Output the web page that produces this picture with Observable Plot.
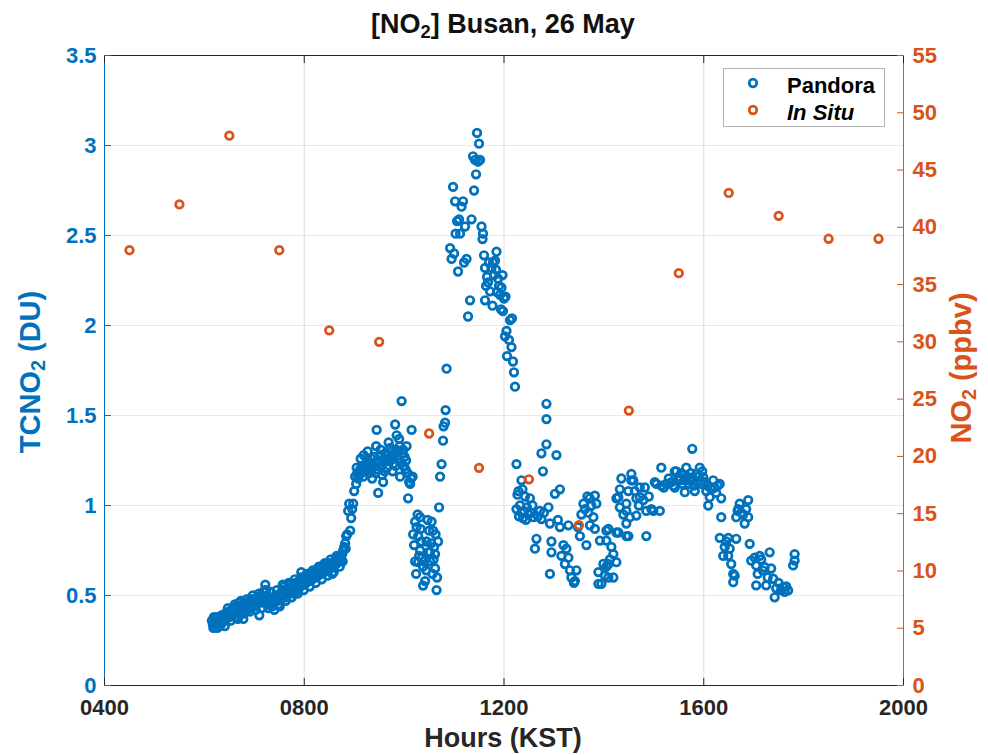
<!DOCTYPE html>
<html><head><meta charset="utf-8">
<script src="https://cdn.jsdelivr.net/npm/d3@7"></script>
<script src="https://cdn.jsdelivr.net/npm/@observablehq/plot@0.6"></script>
<style>
body{margin:0;background:#fff;font-family:"Liberation Sans",Arial,sans-serif;}
#wrap{position:relative;width:988px;height:755px;overflow:hidden;background:#fff}
.lbl{position:absolute;font-weight:bold;white-space:nowrap;transform:translate(-50%,-50%);line-height:1}
.lbl sub{font-size:68%;vertical-align:-0.3em;line-height:0}
#legend{position:absolute;left:723px;top:68px;width:162px;height:59px;border:1px solid #b4b4b4;background:#fff;box-sizing:border-box}
.li{position:absolute;left:0;font-weight:bold;font-size:22px;color:#000;line-height:1}
.li svg{position:absolute;left:23px;top:2px}
.li span{position:absolute;left:63px;top:0;white-space:nowrap}
</style></head>
<body><div id="wrap"></div>
<script>
// ---- data ----
const xTickHours = [4, 8, 12, 16, 20];
const leftTicksDU = [0, 0.5, 1, 1.5, 2, 2.5, 3, 3.5];
const rightTicksPpbv = [0, 5, 10, 15, 20, 25, 30, 35, 40, 45, 50, 55];
const insituHours = [4.5, 5.5, 6.5, 7.5, 8.5, 9.5, 10.5, 11.5, 12.5, 13.5, 14.5, 15.5, 16.5, 17.5, 18.5, 19.5];
const insituPpbv = [38, 42, 48, 38, 31, 30, 22, 19, 18, 14, 24, 36, 43, 41, 39, 39];
// Pandora [hour (decimal, KST), TCNO2 (DU)]
const pandora = [
[6.15,0.36],[6.17,0.34],[6.18,0.32],[6.20,0.37],[6.22,0.33],[6.23,0.35],[6.25,0.38],[6.27,0.34],[6.28,0.36],[6.30,0.33],[6.32,0.37],[6.34,0.39],[6.36,0.35],[6.38,0.38],[6.40,0.36],[6.42,0.40],[6.44,0.37],[6.46,0.39],[6.48,0.41],[6.50,0.38],[6.52,0.40],[6.54,0.42],[6.56,0.39],[6.58,0.43],[6.60,0.41],[6.62,0.38],[6.64,0.44],[6.66,0.42],[6.68,0.40],[6.70,0.46],[6.72,0.43],[6.74,0.41],[6.76,0.45],[6.78,0.37],[6.80,0.43],[6.82,0.46],[6.84,0.44],[6.86,0.42],[6.88,0.45],[6.90,0.47],[6.92,0.43],[6.94,0.45],[6.96,0.48],[6.98,0.46],[7.00,0.44],[7.02,0.47],[7.04,0.45],[7.06,0.49],[7.08,0.47],[7.10,0.39],[7.12,0.48],[7.14,0.50],[7.16,0.46],[7.18,0.52],[7.20,0.48],[7.22,0.56],[7.24,0.53],[7.26,0.50],[7.28,0.43],[7.30,0.47],[7.32,0.49],[7.34,0.46],[7.36,0.44],[7.38,0.48],[7.40,0.42],[7.42,0.47],[7.44,0.50],[7.46,0.47],[7.48,0.45],[7.50,0.49],[7.52,0.51],[7.54,0.48],[7.56,0.53],[7.58,0.50],[7.60,0.55],[7.62,0.52],[7.64,0.49],[7.66,0.54],[7.68,0.51],[7.70,0.53],[7.72,0.56],[7.74,0.52],[7.76,0.55],[7.78,0.53],[7.80,0.51],[7.82,0.57],[7.84,0.54],[7.86,0.56],[7.88,0.53],[7.90,0.58],[7.92,0.55],[7.94,0.63],[7.96,0.57],[7.98,0.59],[8.00,0.56],[8.02,0.60],[8.04,0.57],[8.06,0.59],[8.08,0.61],[8.10,0.58],[8.12,0.60],[8.14,0.62],[8.16,0.59],[8.18,0.61],[8.20,0.63],[8.22,0.60],[8.24,0.62],[8.26,0.64],[8.28,0.61],[8.30,0.63],[8.32,0.65],[8.34,0.62],[8.36,0.64],[8.38,0.66],[8.40,0.63],[8.42,0.65],[8.44,0.67],[8.46,0.64],[8.48,0.66],[8.50,0.68],[8.52,0.65],[8.54,0.67],[8.56,0.62],[8.58,0.66],[8.60,0.69],[8.62,0.67],[8.64,0.70],[8.66,0.68],[8.68,0.71],[8.70,0.69],[8.72,0.72],[8.74,0.70],[8.76,0.73],[8.78,0.75],[8.80,0.77],[8.82,0.79],[8.84,0.83],[8.86,0.84],[8.88,0.97],[8.90,1.01],
[6.19,0.38],[6.26,0.32],[6.33,0.34],[6.41,0.33],[6.47,0.43],[6.53,0.36],[6.61,0.45],[6.67,0.37],[6.73,0.47],[6.79,0.40],[6.85,0.48],[6.91,0.41],[6.97,0.50],[7.03,0.42],[7.09,0.51],[7.15,0.43],[7.21,0.53],[7.27,0.45],[7.33,0.52],[7.39,0.46],[7.45,0.53],[7.51,0.44],[7.57,0.56],[7.63,0.47],[7.69,0.57],[7.75,0.49],[7.81,0.59],[7.87,0.51],[7.93,0.60],[7.99,0.53],[8.05,0.62],[8.11,0.55],[8.17,0.64],[8.23,0.57],[8.29,0.66],[8.35,0.59],[8.41,0.68],[8.47,0.61],[8.53,0.70],[8.59,0.63],[8.65,0.72],[8.71,0.66],[8.77,0.69],[8.83,0.76],
[8.92,0.86],[8.94,0.93],[8.96,0.98],[8.98,1.01],[9.00,1.08],[9.02,1.16],[9.04,1.12],[9.06,1.18],[9.08,1.15],[9.10,1.17],[9.12,1.20],[9.14,1.18],[9.16,1.22],[9.18,1.16],[9.20,1.21],[9.22,1.19],[9.24,1.23],[9.26,1.25],[9.28,1.21],[9.30,1.18],[9.32,1.24],[9.34,1.26],[9.36,1.15],[9.38,1.22],[9.40,1.27],[9.42,1.24],[9.44,1.33],[9.45,1.42],[9.46,1.20],[9.48,1.07],[9.50,1.25],[9.52,1.28],[9.54,1.22],[9.56,1.17],[9.58,1.13],[9.60,1.24],[9.62,1.29],[9.64,1.26],[9.66,1.21],[9.68,1.28],[9.70,1.25],[9.72,1.32],[9.74,1.27],[9.76,1.30],[9.78,1.23],[9.80,1.28],[9.82,1.45],[9.84,1.31],[9.85,1.39],[9.87,1.26],[9.89,1.30],[9.91,1.33],[9.92,1.16],[9.93,1.24],[9.95,1.58],[9.97,1.29],[9.99,1.22],[10.01,1.27],[10.03,1.20],[10.05,1.33],[10.07,1.18],[10.08,1.04],[10.10,1.13],[10.12,1.12],[10.14,1.15],[10.15,1.42],[10.17,1.16],
[9.05,1.21],[9.13,1.26],[9.19,1.28],[9.27,1.30],[9.35,1.20],[9.43,1.18],[9.53,1.31],[9.61,1.19],[9.69,1.35],[9.77,1.19],[9.83,1.22],[9.90,1.37],[9.98,1.31],[10.04,1.25],
[10.18,0.84],[10.20,0.78],[10.22,0.91],[10.22,0.69],[10.25,0.88],[10.28,0.83],[10.28,0.685],[10.30,0.72],[10.32,0.935],[10.32,0.75],[10.35,0.80],[10.38,0.66],[10.38,0.555],[10.40,0.69],[10.42,0.58],[10.45,0.80],[10.48,0.74],[10.50,0.86],[10.52,0.74],[10.52,0.69],[10.55,0.91],[10.57,0.62],[10.58,0.86],[10.60,0.77],[10.62,0.73],[10.62,0.65],[10.65,0.53],[10.68,0.80],[10.70,0.99],
[10.24,0.62],[10.27,0.95],[10.33,0.87],[10.36,0.71],[10.44,0.64],[10.47,0.92],[10.54,0.79],[10.59,0.70],[10.63,0.84],[10.66,0.60],
[10.72,1.16],[10.75,1.23],[10.78,1.36],[10.79,1.44],[10.82,1.46],[10.83,1.53],[10.85,1.76],[10.92,2.43],[10.95,2.37],[10.98,2.77],[11.00,2.40],[11.02,2.69],[11.03,2.51],[11.06,2.58],[11.08,2.30],[11.10,2.59],[11.12,2.51],[11.15,2.66],[11.18,2.69],[11.20,2.35],[11.22,2.55],[11.25,2.37],[11.28,2.05],[11.32,2.14],[11.35,2.59],[11.38,2.94],[11.40,2.75],[11.42,2.92],[11.44,2.84],[11.46,3.07],[11.48,2.91],[11.50,3.01],[11.52,2.92],[11.55,2.55],[11.57,2.48],[11.58,2.51],[11.60,2.39],[11.62,2.32],[11.62,2.14],[11.64,2.22],[11.66,2.27],[11.68,2.24],[11.70,2.35],[11.72,2.19],[11.75,2.32],[11.77,2.11],[11.78,2.35],[11.80,2.28],[11.82,2.36],[11.84,2.31],[11.85,2.41],[11.86,2.185],[11.88,2.26],[11.90,2.22],[11.92,2.17],[11.94,2.09],[11.95,2.21],[11.97,2.28],[11.98,2.08],[12.00,2.15],[12.02,1.94],[12.03,2.16],[12.05,1.97],[12.06,1.83],[12.10,1.92],[12.12,2.03],[12.15,1.88],[12.16,2.04],[12.18,1.80],[12.20,1.74],[12.22,1.66],
[12.25,1.23],[12.25,0.98],[12.27,1.06],[12.29,1.08],[12.30,0.94],[12.32,1.00],[12.35,1.14],[12.35,0.96],[12.37,1.09],[12.38,0.93],[12.40,0.97],[12.42,1.05],[12.44,0.92],[12.46,0.99],[12.49,0.95],[12.52,1.04],[12.54,0.96],[12.57,1.00],[12.59,0.935],[12.62,0.76],[12.65,0.815],[12.68,0.94],[12.72,0.97],[12.75,0.925],[12.75,1.29],[12.78,1.19],[12.80,0.96],[12.85,1.565],[12.85,1.48],[12.85,1.34],[12.89,0.99],[12.92,0.90],[12.92,0.62],[12.95,0.80],[12.95,0.74],[13.02,1.065],[13.05,1.28],[13.08,0.92],[13.12,1.09],[13.12,0.88],[13.15,0.72],[13.19,0.78],[13.22,0.675],[13.25,0.76],[13.29,0.89],[13.29,0.71],[13.32,0.64],[13.35,0.60],[13.42,0.58],[13.45,0.64],[13.40,0.57],[13.48,0.88],[13.52,0.83],[13.55,0.95],[13.59,1.01],[13.62,0.98],[13.65,0.78],[13.67,1.05],[13.69,0.96],[13.72,1.04],[13.72,0.89],[13.75,1.00],[13.79,0.935],[13.82,1.055],[13.82,0.87],[13.85,1.01],[13.89,0.63],[13.89,0.565],[13.92,0.805],[13.95,0.565],[13.99,0.675],[14.02,0.61],[14.05,0.805],[14.05,0.66],[14.05,0.86],[14.09,0.87],[14.09,0.675],[14.09,0.60],[14.12,0.70],[14.15,0.77],[14.19,0.73],[14.19,0.60],[14.25,0.85],[14.25,0.685],[14.25,1.04],[14.29,1.046],[14.29,0.85],[14.32,1.09],[14.32,0.99],[14.35,1.15],[14.39,0.95],[14.45,1.01],[14.45,0.90],[14.45,0.83],[14.45,0.97],[14.49,1.08],[14.49,0.83],[14.52,0.935],[14.55,1.175],[14.55,1.14],[14.59,1.14],[14.62,1.08],[14.65,1.04],[14.65,0.944],[14.70,1.00],[14.72,1.10],[14.72,1.046],[14.79,1.03],[14.82,1.10],[14.85,0.97],[14.85,0.83],[14.90,1.05],[14.95,0.98],[14.99,0.97],[15.02,1.13],[15.05,1.12],[15.12,0.97],[15.15,1.21],[15.15,1.11],[15.20,1.10],[15.25,1.12],
[15.30,1.15],[15.35,1.13],[15.39,1.11],[15.42,1.19],[15.42,1.10],[15.45,1.19],[15.48,1.14],[15.50,1.16],[15.52,1.14],[15.55,1.18],[15.57,1.12],[15.60,1.17],[15.62,1.074],[15.63,1.14],[15.65,1.21],[15.67,1.16],[15.70,1.12],[15.72,1.14],[15.74,1.18],[15.77,1.315],[15.78,1.15],[15.80,1.11],[15.82,1.08],[15.85,1.175],[15.87,1.13],[15.90,1.16],[15.92,1.21],[15.95,1.12],[15.97,1.19],[15.99,1.157],[16.02,1.13],[16.05,1.08],[16.07,1.11],[16.09,1.00],[16.12,1.046],[16.15,1.09],[16.19,1.14],[16.22,1.10],[16.25,1.07],[16.28,1.11],[16.32,1.12],[16.35,1.04],[16.35,0.935],[16.32,0.82],[16.39,0.72],[16.42,0.77],[16.45,0.80],[16.49,0.82],[16.49,0.72],[16.52,0.76],[16.55,0.675],[16.59,0.62],[16.59,0.574],[16.62,0.61],[16.65,0.815],[16.65,0.935],[16.68,0.97],[16.69,0.98],[16.72,1.01],[16.75,0.96],[16.79,0.95],[16.82,0.90],[16.85,0.98],[16.89,1.03],[16.89,0.935],[16.92,0.787],[16.95,0.694],[17.02,0.71],[17.05,0.667],[17.05,0.556],[17.08,0.62],[17.12,0.72],[17.15,0.70],[17.18,0.64],[17.22,0.657],[17.25,0.556],[17.28,0.60],[17.32,0.74],[17.35,0.65],[17.39,0.593],[17.42,0.49],[17.45,0.54],[17.50,0.57],[17.55,0.53],[17.59,0.546],[17.62,0.52],[17.65,0.55],[17.69,0.528],[17.79,0.667],[17.82,0.694],[17.82,0.73]
];

// ---- chart ----
const BLUE = "#0072BD", ORANGE = "#D95319", AX = "#262626";
const toDU = p => p * 3.5 / 55;
const insitu = insituHours.map((h, i) => ({h, du: toDU(insituPpbv[i])}));
const hhmm = h => String(h * 100).padStart(4, "0");

const chart = Plot.plot({
  width: 988, height: 755,
  marginTop: 55, marginBottom: 70, marginLeft: 104, marginRight: 85,
  x: {domain: [4, 20]},
  y: {domain: [0, 3.5]},
  style: {fontFamily: "'Liberation Sans', Arial, sans-serif", fontSize: "22px", fontWeight: "bold", background: "white", overflow: "visible"},
  marks: [
    Plot.gridX(xTickHours, {stroke: "#000", strokeOpacity: 0.13}),
    Plot.gridY(leftTicksDU, {stroke: BLUE, strokeOpacity: 0.13}),
    Plot.ruleY([0], {stroke: AX}),
    Plot.ruleY([3.5], {stroke: AX}),
    Plot.ruleX([4], {stroke: BLUE}),
    Plot.ruleX([20], {stroke: ORANGE}),
    Plot.axisX(xTickHours, {anchor: "bottom", tickSize: -7, tickPadding: 21, tickFormat: hhmm, label: null, color: AX}),
    Plot.axisX(xTickHours, {anchor: "top", tickSize: -7, tickFormat: () => "", label: null, color: AX}),
    Plot.axisY(leftTicksDU, {anchor: "left", tickSize: -7, tickPadding: 15, tickFormat: d => String(d), label: null, color: BLUE}),
    Plot.axisY(rightTicksPpbv.map(toDU), {anchor: "right", tickSize: -7, tickPadding: 16, tickFormat: d => String(Math.round(d * 55 / 3.5)), label: null, color: ORANGE}),
    Plot.dot(pandora, {x: d => d[0], y: d => d[1], r: 3.8, stroke: BLUE, strokeWidth: 2.7}),
    Plot.dot(insitu, {x: "h", y: "du", r: 3.8, stroke: ORANGE, strokeWidth: 2.7})
  ]
});
const wrap = document.getElementById("wrap");
wrap.appendChild(chart);
wrap.insertAdjacentHTML("beforeend", `
<div class="lbl" style="left:503px;top:24px;font-size:27px;color:#111">[NO<sub>2</sub>] Busan, 26 May</div>
<div class="lbl" style="left:30px;top:372px;font-size:29px;color:${BLUE};transform:translate(-50%,-50%) rotate(-90deg)">TCNO<sub>2</sub> (DU)</div>
<div class="lbl" style="left:961px;top:368px;font-size:29px;color:${ORANGE};transform:translate(-50%,-50%) rotate(-90deg)">NO<sub>2</sub> (ppbv)</div>
<div class="lbl" style="left:503px;top:738px;font-size:27px;color:${AX}">Hours (KST)</div>
<div id="legend">
  <div class="li" style="top:6px"><svg width="12" height="12"><circle cx="6" cy="6" r="3.8" fill="none" stroke="${BLUE}" stroke-width="2.7"/></svg><span>Pandora</span></div>
  <div class="li" style="top:33px"><svg width="12" height="12"><circle cx="6" cy="6" r="3.8" fill="none" stroke="${ORANGE}" stroke-width="2.7"/></svg><span style="font-style:italic">In Situ</span></div>
</div>`);
</script>
</body></html>
